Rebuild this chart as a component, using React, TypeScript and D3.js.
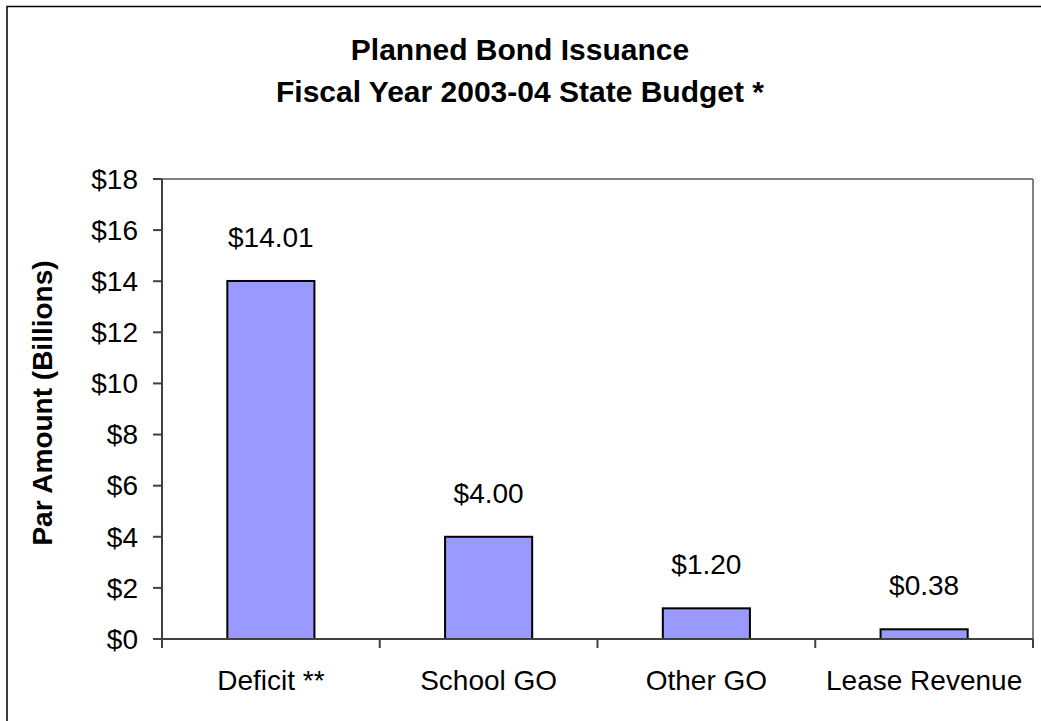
import React from "react";
import * as d3 from "d3";

const categories = ["Deficit **", "School GO", "Other GO", "Lease Revenue"];
const values = [14.01, 4.0, 1.2, 0.38];
const valueLabels = ["$14.01", "$4.00", "$1.20", "$0.38"];
const yTicks = [0, 2, 4, 6, 8, 10, 12, 14, 16, 18];
const titleLines = ["Planned Bond Issuance", "Fiscal Year 2003-04 State Budget *"];
const yAxisTitle = "Par Amount (Billions)";

const W = 1041;
const H = 721;
const plot = { left: 162, right: 1033, top: 179, bottom: 639 };
const FONT = "'Liberation Sans', Arial, sans-serif";

export default function App() {
  const x = d3.scaleBand<string>().domain(categories).range([plot.left, plot.right]).padding(0);
  const y = d3.scaleLinear().domain([0, 18]).range([plot.bottom, plot.top]);
  const bw = x.bandwidth() * 0.4;
  const boundaries = [plot.left, ...categories.map((c) => (x(c) as number) + x.bandwidth())];

  return (
    <svg width={W} height={H} style={{ position: "absolute", left: 0, top: 0, background: "#fff" }}>
      <rect x={0} y={0} width={W} height={H} fill="#fff" />
      <rect x={7} y={6.5} width={W + 10} height={H + 10} fill="none" stroke="#000" strokeWidth={1.5} />
      {titleLines.map((t, i) => (
        <text key={t} x={520} y={60 + i * 42} textAnchor="middle" fontFamily={FONT} fontWeight="bold" fontSize={30} fill="#000">
          {t}
        </text>
      ))}
      {/* plot frame top/right */}
      <line x1={plot.left} x2={plot.right} y1={plot.top} y2={plot.top} stroke="#808080" strokeWidth={2} />
      <line x1={plot.right} x2={plot.right} y1={plot.top} y2={plot.bottom} stroke="#808080" strokeWidth={2} />
      {/* bars */}
      {categories.map((c, i) => {
        const cx = (x(c) as number) + x.bandwidth() / 2;
        return (
          <g key={c}>
            <rect x={cx - bw / 2} y={y(values[i])} width={bw} height={y(0) - y(values[i])} fill="#9999FF" stroke="#000" strokeWidth={2} />
            <text x={cx} y={y(values[i]) - 34} textAnchor="middle" fontFamily={FONT} fontSize={28} fill="#000">
              {valueLabels[i]}
            </text>
            <text x={cx} y={690} textAnchor="middle" fontFamily={FONT} fontSize={28} fill="#000">
              {c}
            </text>
          </g>
        );
      })}
      {/* axes */}
      <line x1={plot.left} x2={plot.left} y1={plot.top} y2={plot.bottom + 9} stroke="#404040" strokeWidth={2} />
      <line x1={plot.left} x2={plot.right} y1={plot.bottom} y2={plot.bottom} stroke="#404040" strokeWidth={2} />
      {yTicks.map((t) => (
        <g key={t}>
          <line x1={plot.left - 9} x2={plot.left} y1={y(t)} y2={y(t)} stroke="#404040" strokeWidth={2} />
          <text x={138} y={y(t)} dy="0.35em" textAnchor="end" fontFamily={FONT} fontSize={28} fill="#000">
            {"$" + t}
          </text>
        </g>
      ))}
      {boundaries.map((b, i) => (
        <line key={i} x1={b} x2={b} y1={plot.bottom} y2={plot.bottom + 9} stroke="#404040" strokeWidth={2} />
      ))}
      <text
        transform={`translate(52, ${(plot.top + plot.bottom) / 2 - 6}) rotate(-90)`}
        textAnchor="middle"
        fontFamily={FONT}
        fontWeight="bold"
        fontSize={28}
        fill="#000"
      >
        {yAxisTitle}
      </text>
    </svg>
  );
}
